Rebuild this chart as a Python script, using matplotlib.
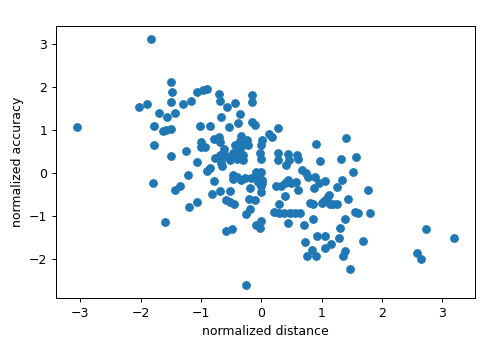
import matplotlib
matplotlib.use("Agg")
import matplotlib.pyplot as plt

# values
dist = [
	-1.83, -3.06, -1.50, -1.48, -1.50, -1.06, -1.17, -1.30, -2.02, -1.89,
	-1.70, -1.56, -1.43, -1.77, -1.63, -1.57, -1.49, -1.77, -1.50, -1.25,
	-1.00, -1.06, -1.21, -1.79, -1.43, -1.35, -1.19, -1.07, -1.60,
	-0.97, -0.90, -0.70, -0.69, -0.57, -0.44, -0.15, -0.15, -0.36, -0.67,
	-0.38, -0.15, -0.10, -1.02, -0.85, -0.54, 0.28, 0.12, 0.17, -0.79,
	-0.70, -0.69, -0.34, -0.36, -0.24, -0.44, -0.31, -0.22, -0.38, 0.01,
	-0.01, -0.99, -0.94, -0.61, -0.69, -0.77, -0.66, -0.58, -0.52, -0.66,
	-0.85, -0.90, -0.65, -0.46, -0.36, -0.30, -0.41, -0.31, -0.02, 0.00,
	0.27, 0.28, -0.09, 0.00, -0.46,
	0.90, 1.40, 0.44, 0.60, 0.61, 0.46, 0.41, 0.97, 1.32, 1.57, 0.67, 1.52,
	-0.46, -0.41, -0.34, -0.27, -0.17, -0.04, 0.02, -0.05, 0.01, -0.01,
	-0.79, -0.19, -0.21, -0.11, 0.00, 0.25, 0.33, 0.40, 0.50, 0.44,
	0.58, 0.39, 0.61, 0.87, 0.95, 0.74, 0.78, 0.89, 1.05, 1.34,
	1.26, 1.77, -0.82, -0.69, -0.52, -0.59, -0.51, -0.45, -0.19, -0.25,
	0.29, 0.21, 0.29, 0.37, 0.48, 0.56, 0.65, 0.81, 0.85, 1.04,
	1.09, 1.12, 1.00, 1.14, 1.19, 1.25, 1.43, 1.55, 1.60, 1.80,
	-0.58, -0.48, 0.00, -0.08, -0.02, 0.44, 0.70, 0.85, 1.38, 1.30,
	0.72, 0.92, 1.06, 1.28, 1.16, 1.05, 0.84, 0.76, 0.90, 1.38,
	1.35, 1.69, 1.47, -0.26, 2.73, 3.20, 2.58, 2.64,
]
acc = [
	3.11, 1.07, 2.12, 1.89, 1.65, 1.89, 1.68, 1.60, 1.54, 1.60,
	1.39, 1.30, 1.39, 1.10, 0.98, 1.00, 1.03, 0.65, 0.39, 0.51,
	0.72, 0.25, -0.05, -0.25, -0.40, -0.32, -0.81, -0.69, -1.16,
	1.93, 1.96, 1.84, 1.68, 1.53, 1.62, 1.81, 1.65, 1.37, 1.30,
	1.15, 1.18, 1.12, 1.09, 1.09, 1.06, 1.04, 0.90, 0.83, 0.79,
	0.84, 0.72, 0.86, 0.73, 0.77, 0.65, 0.65, 0.64, 0.54, 0.77,
	0.64, 0.59, 0.59, 0.56, 0.42, 0.34, 0.33, 0.39, 0.30, 0.22,
	0.12, 0.05, 0.15, 0.45, 0.49, 0.42, 0.33, 0.30, 0.45, 0.33,
	0.46, 0.30, 0.01, 0.01, -0.05,
	0.66, 0.80, 0.44, 0.42, 0.33, 0.30, 0.18, 0.28, 0.33, 0.36, 0.07, 0.02,
	-0.14, -0.10, -0.17, -0.13, -0.13, -0.12, -0.17, -0.21, -0.23, -0.30,
	-0.19, -0.36, -0.61, -0.64, -0.44, -0.30, -0.30, -0.25, -0.23, -0.17,
	-0.21, -0.54, -0.41, -0.36, -0.25, -0.01, -0.09, -0.10, -0.19, -0.17,
	-0.34, -0.40, -0.50, -0.43, -0.43, -0.64, -0.69, -0.72, -0.85, -0.96,
	-0.73, -0.92, -0.95, -0.95, -0.95, -0.93, -0.95, -0.71, -0.74, -0.65,
	-0.58, -0.51, -0.71, -0.72, -0.72, -0.73, -0.61, -0.92, -0.95, -0.93,
	-1.36, -1.31, -1.13, -1.21, -1.29, -1.18, -1.21, -1.07, -1.07, -1.28,
	-1.62, -1.47, -1.47, -1.51, -1.66, -1.76, -1.79, -1.94, -1.94, -1.83,
	-1.94, -1.59, -2.24, -2.62, -1.31, -1.51, -1.88, -2.00,
]

fig = plt.figure(figsize=(492/90., 359/90.), dpi=90)
ax = fig.add_axes([0.1138, 0.1699, 0.8516, 0.7577])
ax.scatter(dist, acc, s=36, color="#1f77b4")
ax.set_xlim(-3.40, 3.54)
ax.set_ylim(-2.92, 3.42)
ax.set_xticks([-3, -2, -1, 0, 1, 2, 3])
ax.set_yticks([-2, -1, 0, 1, 2, 3])
ax.set_xlabel("normalized distance")
ax.set_ylabel("normalized accuracy")

fig.savefig("out.png", dpi=90)
